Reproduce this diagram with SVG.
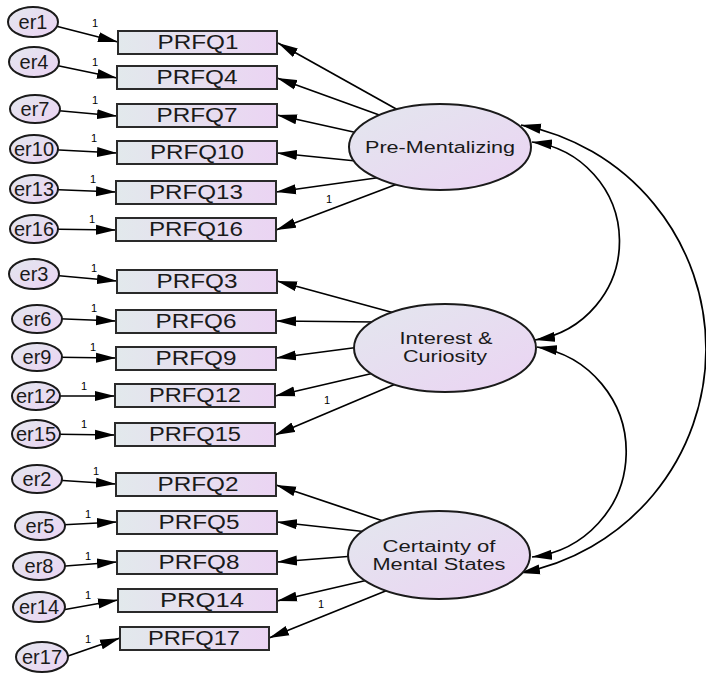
<svg xmlns="http://www.w3.org/2000/svg" width="706" height="675" viewBox="0 0 706 675">
<defs>
  <linearGradient id="boxFill" x1="0" y1="0" x2="1" y2="0">
    <stop offset="0" stop-color="#e2e9ec"/>
    <stop offset="1" stop-color="#ebd4f3"/>
  </linearGradient>
  <linearGradient id="ovalFill" x1="0" y1="0" x2="1" y2="1">
    <stop offset="0" stop-color="#e3e7ee"/>
    <stop offset="1" stop-color="#ebd3f3"/>
  </linearGradient>
  <marker id="head" markerUnits="userSpaceOnUse" markerWidth="20" markerHeight="11" refX="20" refY="5.5" orient="auto-start-reverse" viewBox="0 0 20 11">
    <path d="M0,0.5 L20,5.5 L0,10.5 z" fill="#000"/>
  </marker>
</defs>
<style>
  .box{fill:url(#boxFill);stroke:#2a2a2a;stroke-width:2}
  .oval{fill:url(#ovalFill);stroke:#1a1a1a;stroke-width:2}
  text{font-family:"Liberation Sans",Arial,Helvetica,sans-serif;fill:#1a1a1a}
  .lbl{text-anchor:middle}
  .item{font-size:20px}
  .err{font-size:20px}
  .lat{font-size:16px}
  .one{font-size:11px;text-anchor:middle;fill:#000}
  .reg{fill:none;stroke:#000;stroke-width:1.7;marker-end:url(#head)}
  .cov{fill:none;stroke:#000;stroke-width:1.7;marker-start:url(#head);marker-end:url(#head)}
</style>

<!-- paths and covariances -->
<g id="connectors">
  <!-- error terms into indicators -->
  <path class="reg" d="M40,22 L118,42"/>
  <path class="reg" d="M40,62 L117,78"/>
  <path class="reg" d="M40,109 L117,116"/>
  <path class="reg" d="M40,149 L117,153"/>
  <path class="reg" d="M40,189 L116,192"/>
  <path class="reg" d="M40,229 L116,230"/>
  <path class="reg" d="M40,274 L117,281"/>
  <path class="reg" d="M40,318 L116,321"/>
  <path class="reg" d="M40,357 L116,358"/>
  <path class="reg" d="M40,396 L115,396"/>
  <path class="reg" d="M40,434 L115,435"/>
  <path class="reg" d="M40,479 L116,484"/>
  <path class="reg" d="M40,526 L117,522"/>
  <path class="reg" d="M40,568 L117,562"/>
  <path class="reg" d="M40,614 L118,600"/>
  <path class="reg" d="M42,665 L120,638"/>

  <!-- Pre-Mentalizing loadings -->
  <path class="reg" d="M398,110 L278,43"/>
  <path class="reg" d="M382,116 L277,78"/>
  <path class="reg" d="M358,133 L277,115"/>
  <path class="reg" d="M356,161 L277,153"/>
  <path class="reg" d="M383,177 L276,192"/>
  <path class="reg" d="M400,183 L276,230"/>

  <!-- Interest & Curiosity loadings -->
  <path class="reg" d="M398,314 L277,281"/>
  <path class="reg" d="M376,322 L276,321"/>
  <path class="reg" d="M360,347 L276,358"/>
  <path class="reg" d="M374,373 L275,396"/>
  <path class="reg" d="M398,383 L275,435"/>

  <!-- Certainty of Mental States loadings -->
  <path class="reg" d="M389,523 L276,485"/>
  <path class="reg" d="M368,532 L277,522"/>
  <path class="reg" d="M354,556 L277,562"/>
  <path class="reg" d="M368,580 L277,601"/>
  <path class="reg" d="M388,590 L269,638"/>

  <!-- factor covariances -->
  <path class="cov" d="M532,142 A100,100 0 0 1 535,340"/>
  <path class="cov" d="M537,347 A106,106 0 0 1 532,557"/>
  <path class="cov" d="M521,125 A228,228 0 0 1 520,573"/>

  <!-- fixed weights -->
  <text class="one" x="95" y="27">1</text>
  <text class="one" x="95" y="66">1</text>
  <text class="one" x="95" y="104">1</text>
  <text class="one" x="94" y="142">1</text>
  <text class="one" x="93" y="183">1</text>
  <text class="one" x="92" y="223">1</text>
  <text class="one" x="94" y="272">1</text>
  <text class="one" x="94" y="312">1</text>
  <text class="one" x="93" y="351">1</text>
  <text class="one" x="84" y="390">1</text>
  <text class="one" x="84" y="428">1</text>
  <text class="one" x="96" y="475">1</text>
  <text class="one" x="88" y="518">1</text>
  <text class="one" x="88" y="560">1</text>
  <text class="one" x="88" y="599">1</text>
  <text class="one" x="88" y="643">1</text>
  <text class="one" x="329" y="203">1</text>
  <text class="one" x="327" y="404">1</text>
  <text class="one" x="321" y="608">1</text>
</g>

<!-- latent factors -->
<g id="pre-mentalizing">
  <ellipse class="oval" cx="440" cy="147" rx="91" ry="43"/>
  <text class="lbl lat" x="440" y="153" textLength="150" lengthAdjust="spacingAndGlyphs">Pre-Mentalizing</text>
</g>
<g id="interest-curiosity">
  <ellipse class="oval" cx="445" cy="348" rx="91" ry="44"/>
  <text class="lbl lat" x="446" y="344" textLength="93" lengthAdjust="spacingAndGlyphs">Interest &amp;</text>
  <text class="lbl lat" x="445" y="362" textLength="84" lengthAdjust="spacingAndGlyphs">Curiosity</text>
</g>
<g id="certainty">
  <ellipse class="oval" cx="439" cy="555" rx="91" ry="44"/>
  <text class="lbl lat" x="439" y="552" textLength="113" lengthAdjust="spacingAndGlyphs">Certainty of</text>
  <text class="lbl lat" x="439" y="570" textLength="133" lengthAdjust="spacingAndGlyphs">Mental States</text>
</g>

<!-- observed indicators -->
<g id="PRFQ1"><rect class="box" x="118" y="31" width="159" height="23"/><text class="lbl item" x="198" y="49" textLength="81" lengthAdjust="spacingAndGlyphs">PRFQ1</text></g>
<g id="PRFQ4"><rect class="box" x="117" y="66" width="160" height="23"/><text class="lbl item" x="197" y="84" textLength="81" lengthAdjust="spacingAndGlyphs">PRFQ4</text></g>
<g id="PRFQ7"><rect class="box" x="117" y="104" width="160" height="23"/><text class="lbl item" x="197" y="122" textLength="81" lengthAdjust="spacingAndGlyphs">PRFQ7</text></g>
<g id="PRFQ10"><rect class="box" x="117" y="141" width="160" height="23"/><text class="lbl item" x="197" y="159" textLength="94" lengthAdjust="spacingAndGlyphs">PRFQ10</text></g>
<g id="PRFQ13"><rect class="box" x="116" y="181" width="160" height="23"/><text class="lbl item" x="196" y="199" textLength="94" lengthAdjust="spacingAndGlyphs">PRFQ13</text></g>
<g id="PRFQ16"><rect class="box" x="116" y="218" width="160" height="23"/><text class="lbl item" x="196" y="236" textLength="94" lengthAdjust="spacingAndGlyphs">PRFQ16</text></g>
<g id="PRFQ3"><rect class="box" x="117" y="270" width="160" height="23"/><text class="lbl item" x="197" y="288" textLength="81" lengthAdjust="spacingAndGlyphs">PRFQ3</text></g>
<g id="PRFQ6"><rect class="box" x="116" y="310" width="160" height="23"/><text class="lbl item" x="196" y="328" textLength="81" lengthAdjust="spacingAndGlyphs">PRFQ6</text></g>
<g id="PRFQ9"><rect class="box" x="116" y="347" width="160" height="23"/><text class="lbl item" x="196" y="365" textLength="81" lengthAdjust="spacingAndGlyphs">PRFQ9</text></g>
<g id="PRFQ12"><rect class="box" x="115" y="384" width="160" height="23"/><text class="lbl item" x="195" y="402" textLength="92" lengthAdjust="spacingAndGlyphs">PRFQ12</text></g>
<g id="PRFQ15"><rect class="box" x="115" y="423" width="160" height="23"/><text class="lbl item" x="195" y="441" textLength="92" lengthAdjust="spacingAndGlyphs">PRFQ15</text></g>
<g id="PRFQ2"><rect class="box" x="116" y="473" width="160" height="23"/><text class="lbl item" x="198" y="491" textLength="81" lengthAdjust="spacingAndGlyphs">PRFQ2</text></g>
<g id="PRFQ5"><rect class="box" x="117" y="511" width="160" height="23"/><text class="lbl item" x="199" y="529" textLength="81" lengthAdjust="spacingAndGlyphs">PRFQ5</text></g>
<g id="PRFQ8"><rect class="box" x="117" y="551" width="160" height="23"/><text class="lbl item" x="199" y="569" textLength="81" lengthAdjust="spacingAndGlyphs">PRFQ8</text></g>
<g id="PRQ14"><rect class="box" x="118" y="589" width="159" height="23"/><text class="lbl item" x="202" y="607" textLength="84" lengthAdjust="spacingAndGlyphs">PRQ14</text></g>
<g id="PRFQ17"><rect class="box" x="120" y="627" width="149" height="23"/><text class="lbl item" x="194" y="645" textLength="92" lengthAdjust="spacingAndGlyphs">PRFQ17</text></g>

<!-- error terms -->
<g id="er1"><ellipse class="oval" cx="33" cy="22" rx="25" ry="15"/><text class="lbl err" x="33" y="29">er1</text></g>
<g id="er4"><ellipse class="oval" cx="34" cy="62" rx="25" ry="15"/><text class="lbl err" x="34" y="69">er4</text></g>
<g id="er7"><ellipse class="oval" cx="35" cy="109" rx="25" ry="14"/><text class="lbl err" x="35" y="116">er7</text></g>
<g id="er10"><ellipse class="oval" cx="34" cy="149" rx="24" ry="14"/><text class="lbl err" x="34" y="156">er10</text></g>
<g id="er13"><ellipse class="oval" cx="34" cy="189" rx="24" ry="14"/><text class="lbl err" x="34" y="196">er13</text></g>
<g id="er16"><ellipse class="oval" cx="34" cy="229" rx="24" ry="14"/><text class="lbl err" x="34" y="236">er16</text></g>
<g id="er3"><ellipse class="oval" cx="34" cy="274" rx="25" ry="15"/><text class="lbl err" x="34" y="281">er3</text></g>
<g id="er6"><ellipse class="oval" cx="37" cy="319" rx="25" ry="14"/><text class="lbl err" x="37" y="326">er6</text></g>
<g id="er9"><ellipse class="oval" cx="37" cy="357" rx="25" ry="14"/><text class="lbl err" x="37" y="364">er9</text></g>
<g id="er12"><ellipse class="oval" cx="36" cy="396" rx="24" ry="14"/><text class="lbl err" x="36" y="403">er12</text></g>
<g id="er15"><ellipse class="oval" cx="36" cy="434" rx="24" ry="14"/><text class="lbl err" x="36" y="441">er15</text></g>
<g id="er2"><ellipse class="oval" cx="37" cy="479" rx="25" ry="14"/><text class="lbl err" x="37" y="486">er2</text></g>
<g id="er5"><ellipse class="oval" cx="40" cy="526" rx="25" ry="14"/><text class="lbl err" x="40" y="533">er5</text></g>
<g id="er8"><ellipse class="oval" cx="39" cy="566" rx="26" ry="14"/><text class="lbl err" x="39" y="573">er8</text></g>
<g id="er14"><ellipse class="oval" cx="39" cy="607" rx="26" ry="15"/><text class="lbl err" x="39" y="614">er14</text></g>
<g id="er17"><ellipse class="oval" cx="42" cy="657" rx="26" ry="15"/><text class="lbl err" x="42" y="664">er17</text></g>
</svg>
